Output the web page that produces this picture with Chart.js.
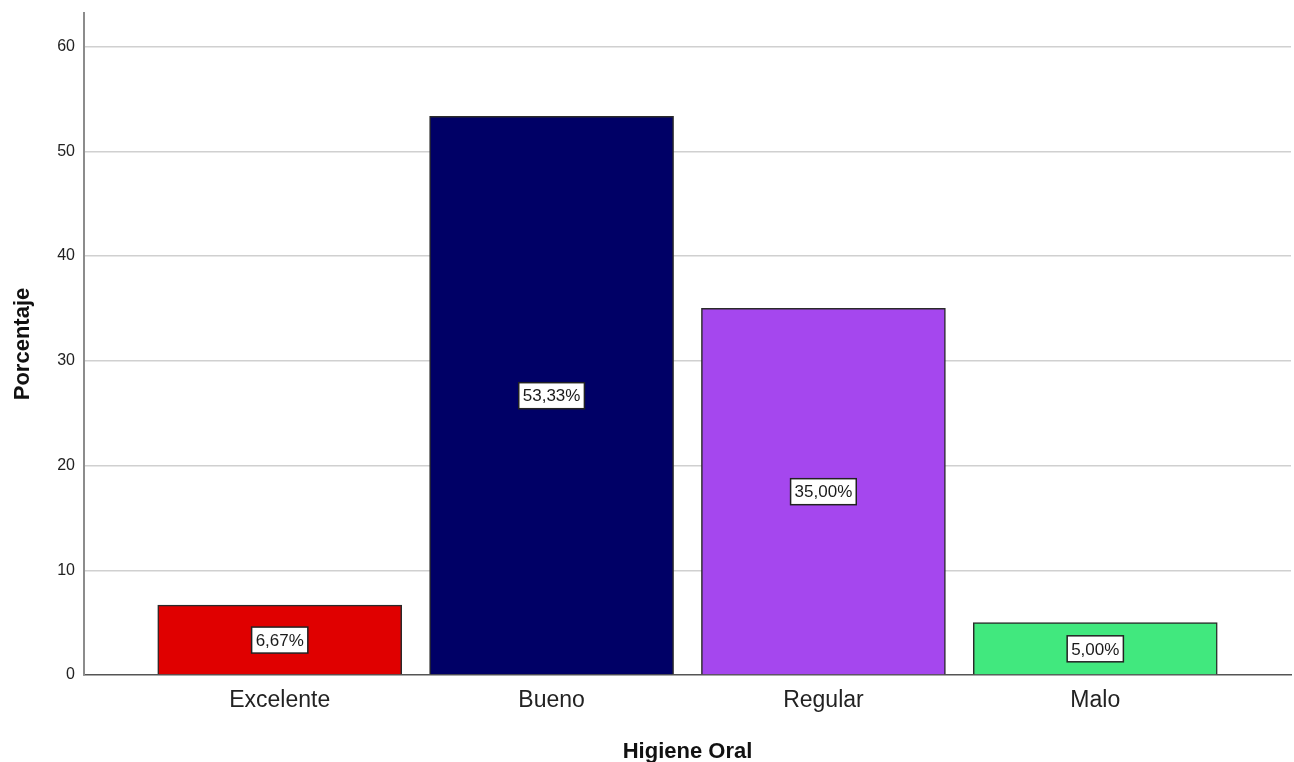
<!DOCTYPE html>
<html>
<head>
<meta charset="utf-8">
<title>Higiene Oral</title>
<script src="https://cdn.jsdelivr.net/npm/chart.js@4.4.1/dist/chart.umd.min.js"></script>
<style>
    html, body { margin: 0; padding: 0; background: #fff; }
    canvas { display: block; }
</style>
</head>
<body>
<canvas id="chartHigiene" width="1294" height="762"></canvas>
<script>
const categorias = ['Excelente', 'Bueno', 'Regular', 'Malo'];
const porcentajes = [6.67, 53.33, 35.00, 5.00];
const coresBarras = ['#e00000', '#000066', '#a547ee', '#41e87e'];
const yTicks = [0, 10, 20, 30, 40, 50, 60];

// caixinha branca com o valor no meio de cada barra
const rotuloValor = {
    id: 'rotuloValor',
    afterDatasetsDraw: function (chart) {
        var ctx = chart.ctx;
        var yScale = chart.scales.y;
        var meta = chart.getDatasetMeta(0);

        ctx.save();
        ctx.font = '17px "Liberation Sans", Arial, sans-serif';
        ctx.textAlign = 'center';
        ctx.textBaseline = 'middle';

        meta.data.forEach(function (bar, i) {
            var valor = porcentajes[i];
            var texto = valor.toFixed(2).replace('.', ',') + '%';
            var cy = yScale.getPixelForValue(valor / 2);
            var w = ctx.measureText(texto).width + 8;
            var h = 26;

            ctx.fillStyle = '#ffffff';
            ctx.fillRect(bar.x - w / 2, cy - h / 2, w, h);
            ctx.lineWidth = 1.5;
            ctx.strokeStyle = '#222222';
            ctx.strokeRect(bar.x - w / 2, cy - h / 2, w, h);

            ctx.fillStyle = '#1a1a1a';
            ctx.fillText(texto, bar.x, cy + 1);
        });
        ctx.restore();
    }
};

var ctx = document.getElementById('chartHigiene').getContext('2d');

var myChart = new Chart(ctx, {
    type: 'bar',
    data: {
        datasets: [{
            label: 'Porcentaje',
            data: porcentajes.map(function (v, i) { return { x: i, y: v }; }),
            backgroundColor: coresBarras,
            borderColor: '#2a2a2a',
            borderWidth: 1.5,
            barThickness: 244,
            grouped: false
        }]
    },
    options: {
        responsive: false,
        devicePixelRatio: 1,
        animation: false,
        layout: {
            padding: { top: 13, right: 3, left: 0, bottom: 0 }
        },
        plugins: {
            legend: { display: false },
            tooltip: { enabled: false }
        },
        scales: {
            x: {
                type: 'linear',
                offset: false,
                min: -0.72,
                max: 3.72,
                afterBuildTicks: function (axis) {
                    axis.ticks = categorias.map(function (c, i) { return { value: i }; });
                },
                afterFit: function (axis) { axis.height = 87; },
                grid: { display: false, drawTicks: false },
                border: { color: '#555555', width: 1.5 },
                ticks: {
                    padding: 12,
                    color: '#222222',
                    font: { family: '"Liberation Sans", Arial, sans-serif', size: 23 },
                    callback: function (value) { return categorias[value]; }
                },
                title: {
                    display: true,
                    text: 'Higiene Oral',
                    color: '#111111',
                    padding: { top: 0, bottom: -1 },
                    font: { family: '"Liberation Sans", Arial, sans-serif', size: 22, weight: 'bold', lineHeight: 1 }
                }
            },
            y: {
                min: 0,
                max: 63.2,
                afterBuildTicks: function (axis) {
                    axis.ticks = yTicks.map(function (v) { return { value: v }; });
                },
                afterFit: function (axis) {
                    axis.width = 84;
                    axis.paddingTop = 0;
                    axis.paddingBottom = 0;
                },
                grid: {
                    drawTicks: false,
                    color: function (c) { return c.tick && c.tick.value === 0 ? 'rgba(0,0,0,0)' : '#d0d0d0'; },
                    lineWidth: 1.5
                },
                border: { color: '#8c8c8c', width: 2 },
                ticks: {
                    padding: 9,
                    color: '#222222',
                    font: { family: '"Liberation Sans", Arial, sans-serif', size: 16 }
                },
                title: {
                    display: true,
                    text: 'Porcentaje',
                    color: '#111111',
                    padding: { top: 12, bottom: 0 },
                    font: { family: '"Liberation Sans", Arial, sans-serif', size: 22, weight: 'bold', lineHeight: 1 }
                }
            }
        }
    },
    plugins: [rotuloValor]
});
</script>
</body>
</html>
